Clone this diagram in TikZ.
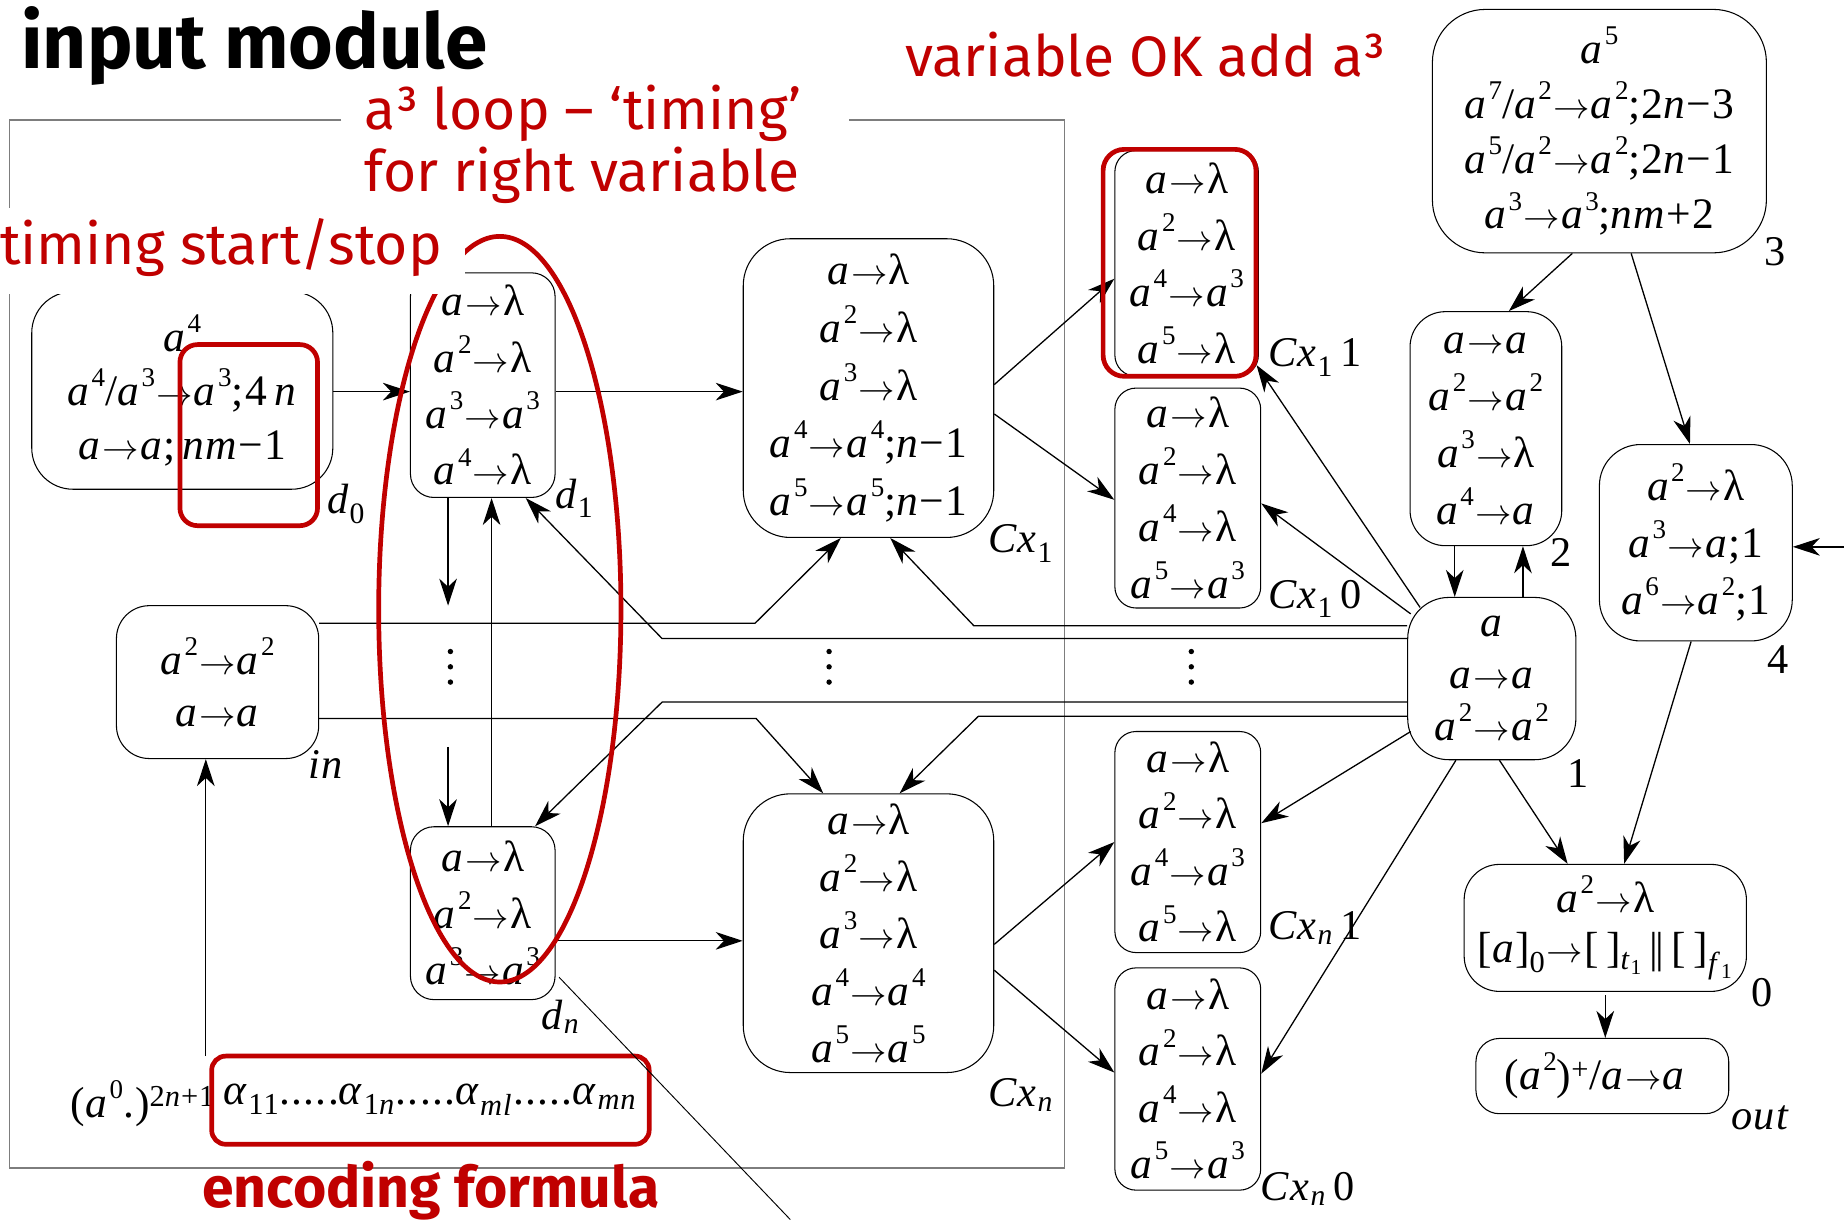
\documentclass[tikz,border=0pt]{standalone}
\usepackage{graphicx}
\usepackage{fontspec}
\setmainfont{Liberation Serif}
\newfontfamily\tms[LetterSpace=3]{Liberation Serif}
\newfontfamily\annot{Fira Sans}
\usetikzlibrary{arrows.meta,calc}
\definecolor{mred}{RGB}{192,0,0}
\definecolor{framegray}{RGB}{125,125,125}
% rule notation: a, a^k, arrow
\newcommand\hi[1]{\raisebox{16pt}{\fontsize{23}{23}\selectfont#1}}
\newcommand\va{\textit{a}}
\newcommand\pa[1]{\textit{a}\kern1pt\hi{#1}}
\newcommand\vi[1]{\textit{#1}}
\newcommand\arw{\kern1pt\resizebox{31pt}{!}{$\rightarrow$}\kern1pt}
\begin{document}
\begin{tikzpicture}[x=1pt,y=-1pt,
  box/.style={draw, line width=0.9pt, rounded corners=#1, inner sep=0pt, align=center},
  rl/.style={font=\fontsize{37}{#1}\selectfont\tms},
  conn/.style={line width=1.1pt, -{Stealth[length=23pt,width=15pt,inset=7pt]}},
  lbl/.style={font=\fontsize{36}{40}\selectfont\tms, inner sep=0pt, anchor=base west},
  redtxt/.style={font=\fontsize{48.5}{52}\selectfont\annot, text=mred, inner sep=0pt, anchor=base west},
  redmark/.style={draw=mred, line width=4pt, rounded corners=#1, inner sep=0pt},
]
\fill[white] (0,0) rectangle (1568,1037);
\useasboundingbox (0,0) rectangle (1568,1037);

% frame of the input module
\draw[framegray, line width=1.2pt] (290,102) -- (8,102) -- (8,993) -- (905,993) -- (905,102) -- (722,102);

% membranes of the input module
\node[box=35pt, rl=46, minimum width=256pt, minimum height=168pt] (d0) at (155,332)
  {\pa{4}\\\pa{4}/\pa{3}\arw\pa{3};4\,\vi{n}\\\va\arw\va;\,\vi{nm}−1};
\node[box=20pt, rl=48, minimum width=123pt, minimum height=191pt] (d1) at (410.5,327.5)
  {\va\arw λ\\\pa{2}\arw λ\\\pa{3}\arw\pa{3}\\\pa{4}\arw λ};
\node[box=20pt, rl=48, minimum width=123pt, minimum height=147pt] (dn) at (410.5,776.5)
  {\va\arw λ\\\pa{2}\arw λ\\\pa{3}\arw\pa{3}};
\node[box=28pt, rl=44, minimum width=172pt, minimum height=130pt] (in) at (185,580)
  {\pa{2}\arw\pa{2}\\\va\arw\va};
\node[box=40pt, rl=49, minimum width=213pt, minimum height=254pt] (cx1) at (738.5,330)
  {\va\arw λ\\\pa{2}\arw λ\\\pa{3}\arw λ\\\pa{4}\arw\pa{4};\vi{n}−1\\\pa{5}\arw\pa{5};\vi{n}−1};
\node[box=40pt, rl=48.5, minimum width=213pt, minimum height=237pt] (cxn) at (738.5,793.5)
  {\va\arw λ\\\pa{2}\arw λ\\\pa{3}\arw λ\\\pa{4}\arw\pa{4}\\\pa{5}\arw\pa{5}};

% clause membranes
\node[box=18pt, rl=48, minimum width=122pt, minimum height=192pt] (cx11) at (1009,224)
  {\va\arw λ\\\pa{2}\arw λ\\\pa{4}\arw\pa{3}\\\pa{5}\arw λ};
\node[box=18pt, rl=48.5, minimum width=124pt, minimum height=187pt] (cx10) at (1010,423.5)
  {\va\arw λ\\\pa{2}\arw λ\\\pa{4}\arw λ\\\pa{5}\arw\pa{3}};
\node[box=18pt, rl=48, minimum width=124pt, minimum height=188pt] (cxn1) at (1010,716)
  {\va\arw λ\\\pa{2}\arw λ\\\pa{4}\arw\pa{3}\\\pa{5}\arw λ};
\node[box=18pt, rl=48, minimum width=124pt, minimum height=189pt] (cxn0) at (1010,917.5)
  {\va\arw λ\\\pa{2}\arw λ\\\pa{4}\arw λ\\\pa{5}\arw\pa{3}};

% control membranes
\node[box=45pt, rl=47, minimum width=284pt, minimum height=207pt] (n3) at (1360,111.5)
  {\pa{5}\\\pa{7}/\pa{2}\arw\pa{2};2\vi{n}−3\\\pa{5}/\pa{2}\arw\pa{2};2\vi{n}−1\\\pa{3}\arw\pa{3};\vi{nm}+2};
\node[box=30pt, rl=48.5, minimum width=129pt, minimum height=199pt] (n2) at (1263.5,364.5)
  {\va\arw\va\\\pa{2}\arw\pa{2}\\\pa{3}\arw λ\\\pa{4}\arw\va};
\node[box=35pt, rl=48.5, minimum width=164pt, minimum height=167pt] (n4) at (1442,461.5)
  {\pa{2}\arw λ\\\pa{3}\arw\va;1\\\pa{6}\arw\pa{2};1};
\node[box=35pt, rl=44, minimum width=143pt, minimum height=138pt] (n1) at (1268.5,577)
  {\va\\\va\arw\va\\\pa{2}\arw\pa{2}};
\node[box=30pt, rl=43, minimum width=240pt, minimum height=108pt] (n0) at (1365,789)
  {\pa{2}\arw λ\\{}[\va]\textsubscript{0}\arw[\,]\textsubscript{\vi{t}\textsubscript{1}}\,|\kern-2pt|\,[\,]\textsubscript{\vi{f}\textsubscript{1}}};
\node[box=20pt, rl=40, minimum width=215pt, minimum height=64pt] (out) at (1362.5,915)
  {(\pa{2})\textsuperscript{+}/\va\arw\va\kern12pt};

% encoding of the formula
\node[rl=40, anchor=base west, inner sep=0pt] (enc0) at (60,950) {(\pa{0}.)\textsuperscript{2\vi{n}+1}};
\node[redmark=12pt, fill=white, minimum width=372pt, minimum height=75pt, rl=40] (enc) at (366,935.5)
  {\vi{α}\textsubscript{11}.....\vi{α}\textsubscript{1\vi{n}}.....\vi{α}\textsubscript{\vi{ml}}.....\vi{α}\textsubscript{\vi{mn}}};

% vertical dots
\foreach \x in {383,705,1013} { \foreach \y in {554,567,580} { \fill (\x,\y) circle (2.3pt); } }

% connectors of the input module
\draw[conn] ($(d0.east)+(0,1)$) -- ($(d1.west)+(0,5.5)$);
\draw[conn] ($(d1.east)+(0,5.5)$) -- ($(cx1.west)+(0,3)$);
\draw[conn] ($(dn.east)+(0,23.5)$) -- ($(cxn.west)+(0,6.5)$);
\coordinate (dv1) at (381,515);
\coordinate (dv2) at (381,635);
\draw[conn] ($(d1.south)+(-29.5,0)$) -- (dv1);
\draw[conn] (dv2) -- ($(dn.north)+(-29.5,0)$);
\draw[conn] ($(dn.north)+(7.5,0)$) -- ($(d1.south)+(7.5,0)$);
\coordinate (src) at (175,898);
\draw[conn] (src) -- ($(in.south)+(-10,0)$);
\coordinate (tail) at (672,1037);
\draw[line width=0.8pt] ($(dn.east)+(3,54.5)$) -- (tail);

% bus lines
\draw[conn] ($(in.east)+(0,-50)$) -- (642,530) -- ($(cx1.south)+(-23.5,0)$);
\draw[conn] ($(n1.west)+(0,-45)$) -- (828,532) -- ($(cx1.south)+(18.5,0)$);
\draw[conn] ($(n1.west)+(0,-34)$) -- (563,543) -- ($(d1.south)+(36.5,0)$);
\draw[conn] ($(n1.west)+(0,20)$) -- (563,597) -- ($(dn.north)+(44.5,0)$);
\draw[conn] ($(n1.west)+(0,32)$) -- (832,609) -- ($(cxn.north)+(26.5,0)$);
\draw[conn] ($(in.east)+(0,31)$) -- (643,611) -- ($(cxn.north)+(-38.5,0)$);

% clause fan-out
\draw[conn] ($(cx1.east)+(0,-3)$) -- ($(cx11.west)+(0,13)$);
\draw[conn] ($(cx1.east)+(0,22)$) -- ($(cx10.west)+(0,1.5)$);
\draw[conn] ($(cxn.east)+(0,9.5)$) -- (cxn1.west);
\draw[conn] ($(cxn.east)+(0,31.5)$) -- ($(cxn0.west)+(0,-5.5)$);

% control part
\draw[conn] ($(n3.south)+(-23,0)$) -- ($(n2.north)+(19.5,0)$);
\draw[conn] ($(n3.south)+(27,0)$) -- ($(n4.north)+(-5,0)$);
\draw[conn] ($(n2.south)+(-26.5,0)$) -- ($(n1.north)+(-31.5,0)$);
\draw[conn] ($(n1.north)+(26.5,0)$) -- ($(n2.south)+(31.5,0)$);
\draw[conn] ($(n4.south)+(-4,0)$) -- ($(n0.north)+(16,0)$);
\draw[conn] ($(n1.south)+(6.5,0)$) -- ($(n0.north)+(-32,0)$);
\draw[conn] ($(n0.south)+(0,3)$) -- ($(out.north)+(2.5,0)$);
\coordinate (ext) at (1568,465);
\draw[conn] (ext) -- ($(n4.east)+(0,3.5)$);
\draw[conn] ($(n1.north west)+(11,9)$) -- ($(cx11.south east)+(-2,-10)$);
\draw[conn] ($(n1.west)+(3,-55)$) -- ($(cx10.east)+(0,4.5)$);
\draw[conn] ($(n1.west)+(3,45)$) -- ($(cxn1.east)+(0,-16)$);
\draw[conn] ($(n1.south)+(-30.5,0)$) -- ($(cxn0.east)+(0,-4.5)$);

% red highlights
\node[redmark=15pt, minimum width=117pt, minimum height=154pt] (mk0) at (211.5,370) {};
\node[redmark=18pt, minimum width=130pt, minimum height=193pt] (mk1) at (1003,223.5) {};
\draw[mred, line width=4pt] (425,518) ellipse [x radius=103pt, y radius=317pt];

% labels
\node[lbl] (ld0) at (278,437) {\vi{d}\textsubscript{0}};
\node[lbl] (ld1) at (472,432) {\vi{d}\textsubscript{1}};
\node[lbl] (ldn) at (460,875) {\vi{d}\textsubscript{\vi{n}}};
\node[lbl] (lin) at (262,662) {\vi{in}};
\node[lbl] (lcx1) at (840,470) {\vi{Cx}\textsubscript{1}};
\node[lbl] (lcxn) at (840,941) {\vi{Cx}\textsubscript{\vi{n}}};
\node[lbl] (lcx11) at (1078,312) {\vi{Cx}\textsubscript{1}\,1};
\node[lbl] (lcx10) at (1078,517) {\vi{Cx}\textsubscript{1}\,0};
\node[lbl] (lcxn1) at (1078,799) {\vi{Cx}\textsubscript{\vi{n}}\,1};
\node[lbl] (lcxn0) at (1072,1021) {\vi{Cx}\textsubscript{\vi{n}}\,0};
\node[lbl] (l3) at (1500,226) {3};
\node[lbl] (l2) at (1318,482) {2};
\node[lbl] (l4) at (1503,573) {4};
\node[lbl] (l1) at (1333,670) {1};
\node[lbl] (l0) at (1489,856) {0};
\node[lbl] (lout) at (1472,960) {\vi{out}};

% annotations
\node[redtxt] (t1) at (770,65) {variable OK add a³};
\node[redtxt] (t2) at (310,110) {a³ loop – ‘timing’};
\node[redtxt] (t3) at (310,163) {for right variable};
\fill[white] (0,177) rectangle (395,250);
\node[redtxt] (t4) at (0,225) {timing start/stop};
\node[redtxt, font=\fontsize{48.5}{52}\selectfont\annot\bfseries] (t5) at (172,1027) {encoding formula};
\node[anchor=base west, inner sep=0pt, font=\fontsize{65}{68}\selectfont\annot\bfseries] (title) at (18,58) {input module};
\end{tikzpicture}
\end{document}
